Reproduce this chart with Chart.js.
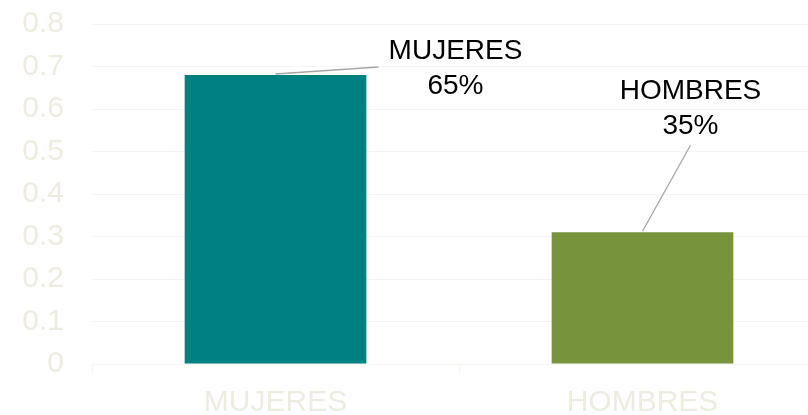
<!DOCTYPE html>
<html>
<head>
<meta charset="utf-8">
<script src="https://cdn.jsdelivr.net/npm/chart.js@4.4.1/dist/chart.umd.min.js"></script>
<style>
  html, body { margin: 0; padding: 0; background: #fff; overflow: hidden; }
  #wrap { width: 826px; height: 415px; }
</style>
</head>
<body>
<div id="wrap"><canvas id="c"></canvas></div>
<script>
// Distribución por sexo — two bars with callout labels
const categories = ["MUJERES", "HOMBRES"];
const values = [0.68, 0.31];
const shareLabels = ["65%", "35%"];
const barColors = ["#008080", "#77933C"];

const TAN = "#EEECE1", GRID = "#F6F5EF", LEADER = "#A6A6A6";
const FONT = "'Liberation Sans', Arial, sans-serif";

// callout: label centre offset from bar top-centre, and leader end point
const callouts = [
  { dx: 180, dy: -24, lx: 103, ly: -8 },
  { dx: 48, dy: -141, lx: 48, ly: -87 },
];

const calloutPlugin = {
  id: "callouts",
  afterDatasetsDraw(chart) {
    const g = chart.ctx;
    const bars = chart.getDatasetMeta(0).data;
    bars.forEach((bar, i) => {
      const c = callouts[i];
      g.save();
      g.strokeStyle = LEADER;
      g.lineWidth = 1.3;
      g.beginPath();
      g.moveTo(bar.x, bar.y - 1);
      g.lineTo(bar.x + c.lx, bar.y + c.ly);
      g.stroke();
      g.fillStyle = "#000";
      g.font = `28px ${FONT}`;
      g.textAlign = "center";
      g.textBaseline = "middle";
      g.fillText(categories[i], bar.x + c.dx, bar.y + c.dy);
      g.fillText(shareLabels[i], bar.x + c.dx, bar.y + c.dy + 35);
      g.restore();
    });
  },
};

new Chart(document.getElementById("c"), {
  type: "bar",
  data: {
    labels: categories,
    datasets: [{
      data: values,
      backgroundColor: barColors,
      barPercentage: 0.495,
      categoryPercentage: 1,
    }],
  },
  options: {
    responsive: true, maintainAspectRatio: false, animation: false,
    layout: { padding: { left: 22, top: 24, bottom: 0, right: 0 } },
    plugins: { legend: { display: false }, tooltip: { enabled: false } },
    scales: {
      x: {
        grid: { color: GRID, drawOnChartArea: false, tickLength: 10 },
        border: { color: GRID },
        ticks: { color: TAN, font: { family: FONT, size: 30 }, padding: 11, autoSkip: false, maxRotation: 0 },
        afterFit(s) { s.height = 51; s.paddingLeft = 0; s.paddingRight = 0; },
      },
      y: {
        min: 0, max: 0.8,
        grid: { color: GRID, drawTicks: false },
        border: { display: false },
        ticks: { stepSize: 0.1, autoSkip: false, color: TAN, font: { family: FONT, size: 30 }, padding: 28 },
        afterFit(s) { s.width = 70; s.paddingTop = 0; s.paddingBottom = 0; },
      },
    },
  },
  plugins: [calloutPlugin],
});
</script>
</body>
</html>
